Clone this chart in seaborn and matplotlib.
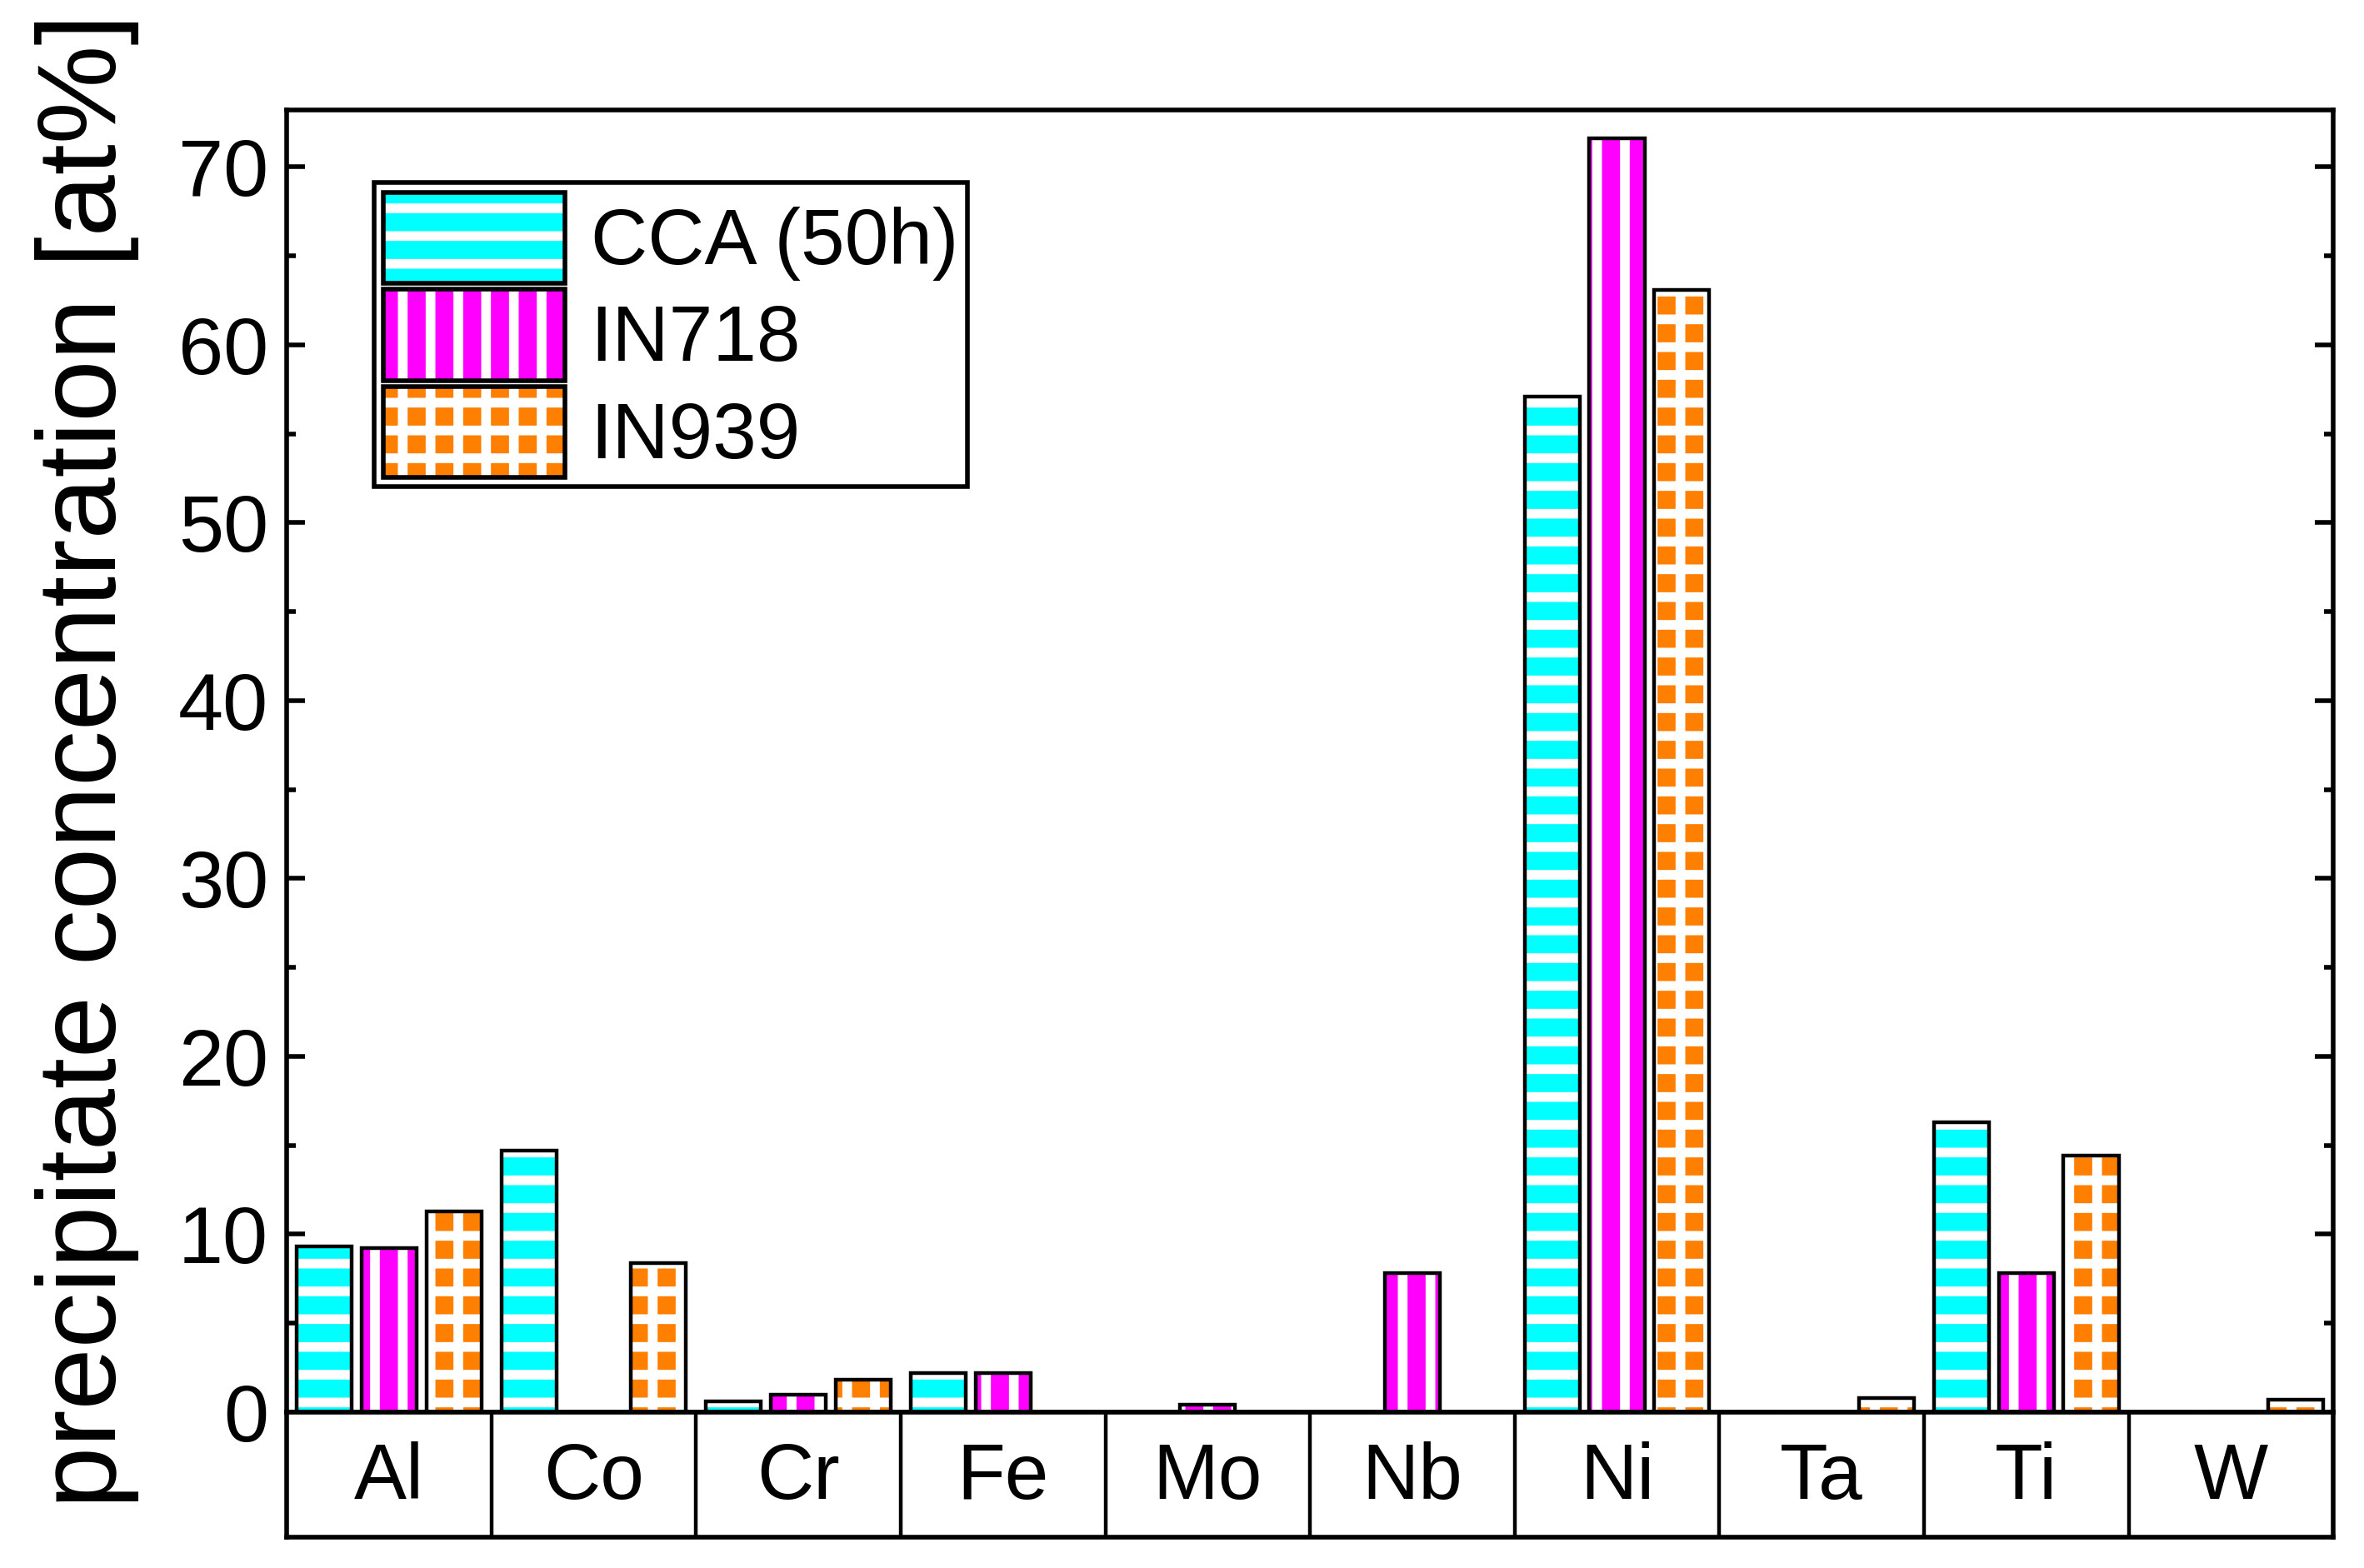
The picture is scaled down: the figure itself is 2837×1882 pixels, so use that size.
import numpy as np
import pandas as pd
import matplotlib
matplotlib.use('Agg')
import matplotlib.pyplot as plt
from matplotlib.patches import Patch
from matplotlib.legend_handler import HandlerTuple
from matplotlib.ticker import MultipleLocator
import seaborn as sns

# Precipitate composition per element
elements = ['Al', 'Co', 'Cr', 'Fe', 'Mo', 'Nb', 'Ni', 'Ta', 'Ti', 'W']
alloys = ['CCA (50h)', 'IN718', 'IN939']
cca_50h = [9.3, 14.7, 0.6, 2.2, 0.0, 0.0, 57.1, 0.0, 16.3, 0.0]
in718 = [9.2, 0.0, 1.0, 2.2, 0.4, 7.8, 71.6, 0.0, 7.8, 0.0]
in939 = [11.3, 8.4, 1.8, 0.0, 0.0, 0.0, 63.1, 0.8, 14.4, 0.7]

colors = ['#00FFFF', '#FF00FF', '#FF8000']
hatches = ['-', '|', '+']
HATCH_LW = 4.2

df = pd.DataFrame({
    'element': elements * len(alloys),
    'alloy': np.repeat(alloys, len(elements)),
    'value': cca_50h + in718 + in939,
})

sns.set_style('ticks')
plt.rcParams['font.family'] = ['Liberation Sans', 'DejaVu Sans']
plt.rcParams['hatch.linewidth'] = HATCH_LW
for key in ['text.color', 'axes.labelcolor', 'xtick.color', 'ytick.color']:
    plt.rcParams[key] = 'black'


def white_hatch(patch, h):
    patch.set_hatch(h)
    patch.set_edgecolor('white')
    patch.set_linewidth(0)
    if hasattr(patch, 'set_hatch_linewidth'):
        patch.set_hatch_linewidth(HATCH_LW)


fig = plt.figure(figsize=(14.185, 9.41), dpi=200)
ax = fig.add_axes([0.1213, 0.0994, 0.8657, 0.8305])
ax_cat = fig.add_axes([0.1213, 0.0197, 0.8657, 0.0797])

# coloured bars with white hatch stripes
sns.barplot(data=df, x='element', y='value', hue='alloy', order=elements,
            hue_order=alloys, palette=colors, saturation=1, width=0.95,
            gap=0.15, errorbar=None, legend=False, ax=ax)
for cont, h in zip(ax.containers, hatches):
    for bar in cont:
        white_hatch(bar, h)

# black outlines on top
sns.barplot(data=df, x='element', y='value', hue='alloy', order=elements,
            hue_order=alloys, palette=['black'] * 3, fill=False, width=0.95,
            gap=0.15, errorbar=None, legend=False, linewidth=1.6, ax=ax)
for cont in ax.containers[3:]:
    for bar in cont:
        bar.set_edgecolor('black')
        bar.set_facecolor('none')

ax.set_xlim(-0.5, len(elements) - 0.5)
ax.set_ylim(0, 73.2)
ax.set_yticks(range(0, 80, 10))
ax.yaxis.set_minor_locator(MultipleLocator(5))
ax.tick_params(axis='x', which='both', length=0, labelbottom=False)
ax.tick_params(axis='y', which='both', direction='in', left=True, right=True,
               width=2, labelsize=35, pad=8)
ax.tick_params(axis='y', which='major', length=8)
ax.tick_params(axis='y', which='minor', length=4)
ax.set_xlabel('')
ax.set_ylabel('precipitate concentration [at%]', fontsize=48, labelpad=17)
for sp in ax.spines.values():
    sp.set_visible(True)
    sp.set_linewidth(2)
    sp.set_color('black')

handles = []
for c, h in zip(colors, hatches):
    fill_patch = Patch(facecolor=c)
    white_hatch(fill_patch, h)
    handles.append((fill_patch, Patch(facecolor='none', edgecolor='black', linewidth=2)))
leg = ax.legend(handles, alloys, handler_map={tuple: HandlerTuple(ndivide=1, pad=0)},
                loc='upper left', bbox_to_anchor=(0.0427, 0.944), fontsize=34,
                handlelength=2.3, handleheight=1.4, labelspacing=0.08,
                handletextpad=0.33, borderpad=0.12, borderaxespad=0,
                frameon=True, fancybox=False, edgecolor='black', framealpha=1)
leg.get_frame().set_linewidth(2)

# category boxes under the axis
ax_cat.set_xlim(-0.5, len(elements) - 0.5)
ax_cat.set_ylim(0, 1)
ax_cat.set_xticks(np.arange(len(elements) - 1) + 0.5)
ax_cat.tick_params(length=0, labelbottom=False, labelleft=False)
ax_cat.set_yticks([])
ax_cat.grid(axis='x', color='black', linewidth=1.6)
for sp in ax_cat.spines.values():
    sp.set_visible(True)
    sp.set_linewidth(2)
    sp.set_color('black')
for i, el in enumerate(elements):
    ax_cat.text(i, 0.47, el, ha='center', va='center', fontsize=34)

fig.savefig('out.png', dpi=200)
